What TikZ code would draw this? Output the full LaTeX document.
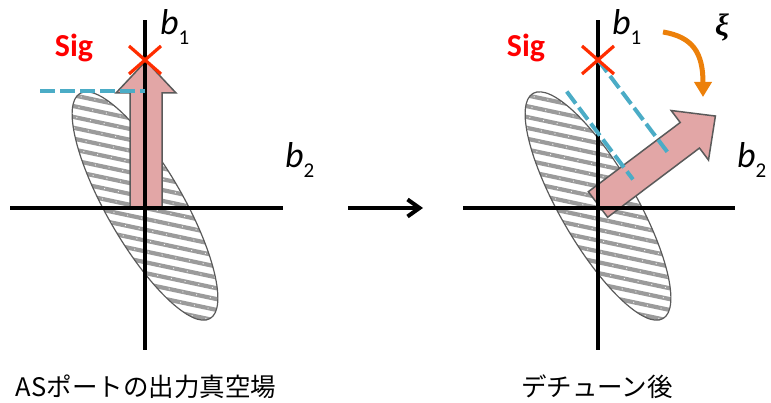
\documentclass[tikz,border=0pt]{standalone}
\usepackage{amsmath, bm}
\usepackage{fontspec}
\setmainfont{Carlito}
\newfontfamily\jpfont{Noto Sans CJK JP}
\newfontfamily\greekfont{Liberation Serif}
\usetikzlibrary{arrows.meta}
\usepackage{xcolor}

\definecolor{sigred}{RGB}{255,0,0}
\definecolor{crossred}{RGB}{255,45,0}
\definecolor{aqua}{RGB}{75,172,198}
\definecolor{pinkfill}{RGB}{226,166,166}
\definecolor{edgegray}{RGB}{90,90,90}
\definecolor{hatchgray}{RGB}{155,155,155}
\definecolor{turnorange}{RGB}{236,128,10}

\tikzset{
  axisline/.style={line width=3.3pt, black},
  ellout/.style={draw=edgegray, line width=1.2pt},
  hatchline/.style={hatchgray, line width=4.2pt},
  hatchdot/.style={white!85!hatchgray, line width=1pt, dash pattern=on 1pt off 13pt},
  fatarrow/.style={fill=pinkfill, draw=edgegray, line width=1.5pt, line join=miter},
  projline/.style={aqua, line width=4pt, dash pattern=on 15pt off 5pt},
  crossline/.style={crossred, line width=3.2pt},
  siglabel/.style={text=sigred, font=\fontsize{32}{32}\selectfont\bfseries, inner sep=0pt},
  axlabel/.style={anchor=base west, inner sep=0pt},
  caption/.style={font=\jpfont\fontsize{25.5}{28}\selectfont, inner sep=0pt}
}
\newcommand{\basisvec}[1]{{\fontsize{36}{36}\selectfont\itshape b}\raisebox{-10pt}{\fontsize{21}{21}\selectfont #1}}

\begin{document}
\begin{tikzpicture}[x=1pt, y=1pt]
  \useasboundingbox (0,0) rectangle (771,403);
  % Vakuum
  \begin{scope}[shift={(145,195)}]
    \begin{scope}
      \clip (0,2) ellipse[x radius=130, y radius=38, rotate=120];
      \begin{scope}[rotate=-12]
        \foreach \k in {-15,...,15} {
          \draw[hatchline] (-170,\k*10.6) -- (170,\k*10.6);
          \draw[hatchdot] (-170,\k*10.6) -- (170,\k*10.6);
        }
      \end{scope}
    \end{scope}
    \draw[ellout] (0,2) ellipse[x radius=130, y radius=38, rotate=120];
    \begin{scope}[shift={(1,0)}, rotate=90]
      \filldraw[fatarrow] (0,-16) -- (115,-16) -- (115,-30) -- (147,0) -- (115,30) -- (115,16) -- (0,16) -- cycle;
    \end{scope}
    \draw[axisline] (-135,0) -- (138,0);
    \draw[axisline] (0,-142) -- (0,188);
    \draw[projline] (-105,117) -- (0,117);
    \draw[crossline] (-16,162) -- (16,134);
    \draw[crossline] (-16,134) -- (16,162);
    \node[siglabel] (sigA) at (-71,160) {Sig};
    \node[axlabel] (b1A) at (15,173) {\basisvec{1}};
    \node[axlabel] (b2A) at (140,40) {\basisvec{2}};
  \end{scope}
  % Pfeil
  \coordinate (gapL) at (348,195);
  \coordinate (gapR) at (423,195);
  \draw[line width=4pt, -{Straight Barb[length=12pt, width=17pt]}] (gapL) -- (gapR);
  % Detuned
  \begin{scope}[shift={(598,195)}]
    \begin{scope}
      \clip (0,2) ellipse[x radius=130, y radius=38, rotate=120];
      \begin{scope}[rotate=-12]
        \foreach \k in {-15,...,15} {
          \draw[hatchline] (-170,\k*10.6) -- (170,\k*10.6);
          \draw[hatchdot] (-170,\k*10.6) -- (170,\k*10.6);
        }
      \end{scope}
    \end{scope}
    \draw[ellout] (0,2) ellipse[x radius=130, y radius=38, rotate=120];
    \coordinate (sigpt) at (0,148);
    \begin{scope}[shift={(0,3.5)}, rotate=37]
      \filldraw[fatarrow] (0,-16) -- (115,-16) -- (115,-31) -- (147,0) -- (115,31) -- (115,16) -- (0,16) -- cycle;
    \end{scope}
    \draw[axisline] (-135,0) -- (137,0);
    \draw[axisline] (0,-142) -- (0,188);
    \begin{scope}[shift={(0,3.5)}, rotate=37]
      \coordinate (footA) at (87,0);
      \coordinate (edgeA) at (43,109);
      \coordinate (footB) at (43,-1);
    \end{scope}
    \draw[projline] (sigpt) -- (footA);
    \draw[projline] (edgeA) -- (footB);
    \draw[crossline] (-16,162) -- (16,134);
    \draw[crossline] (-16,134) -- (16,162);
    \node[siglabel] (sigB) at (-72,160) {Sig};
    \node[axlabel] (b1B) at (14,173) {\basisvec{1}};
    \node[axlabel] (b2B) at (139,40) {\basisvec{2}};
  \end{scope}
  % Drehung
  \coordinate (turnS) at (663,371);
  \coordinate (turnE) at (703,306);
  \draw[turnorange, line width=5pt, -{Triangle[length=15pt, width=17pt]}] (turnS) .. controls (693,366) and (703,350) .. (turnE);
  \node[font=\greekfont\bfseries\itshape\fontsize{31}{31}\selectfont, inner sep=0pt] (xi) at (722,376) {ξ};
  % Texte
  \node[caption] (capA) at (146,16) {ASポートの出力真空場};
  \node[caption] (capB) at (597,16) {デチューン後};
\end{tikzpicture}
\end{document}
